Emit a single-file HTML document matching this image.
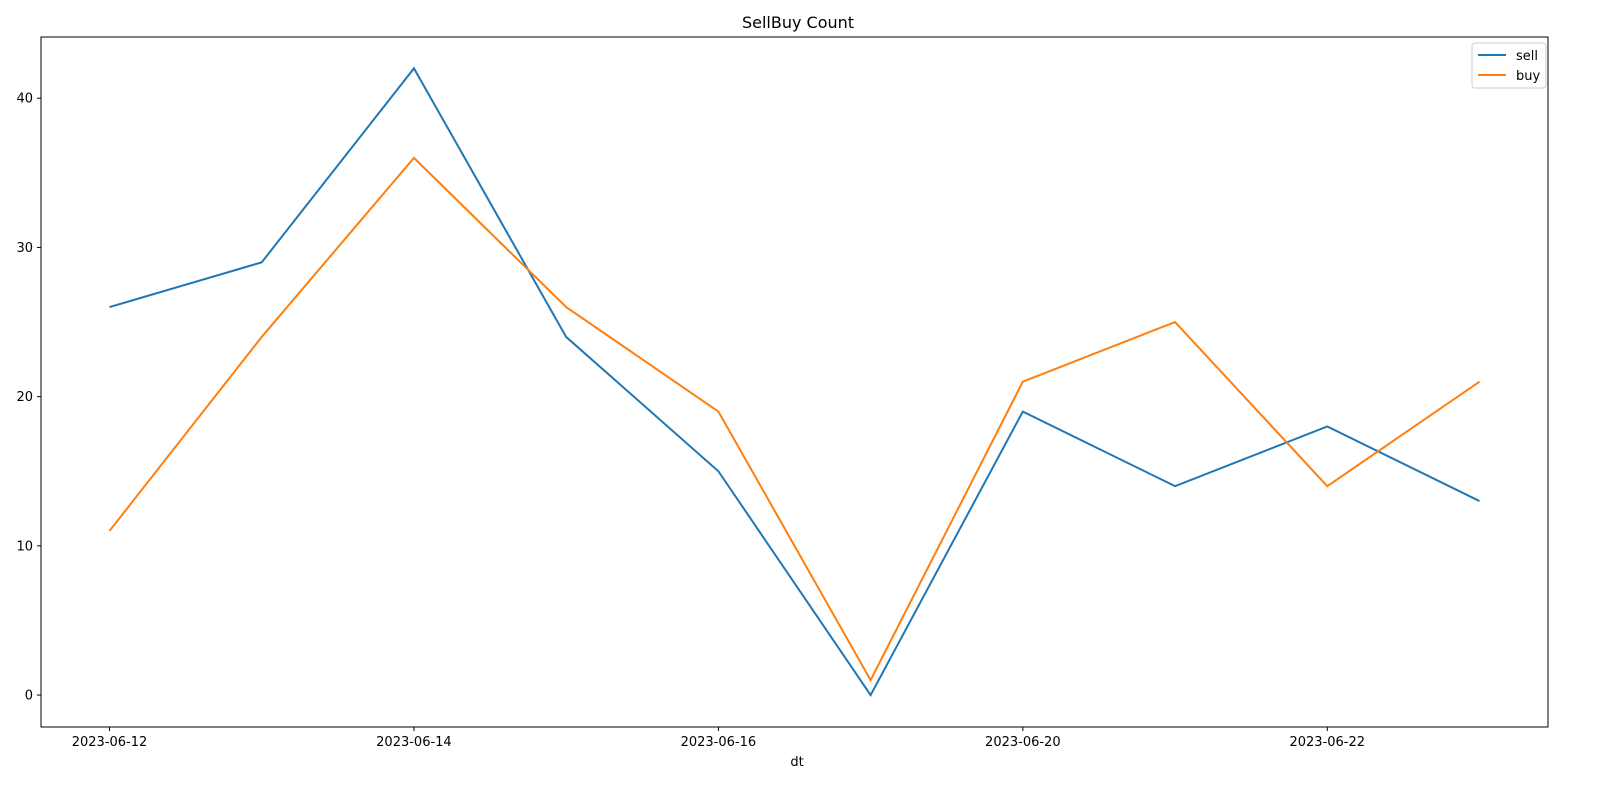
<!DOCTYPE html>
<html><head><meta charset="utf-8"><style>
html,body{margin:0;padding:0;background:#fff;overflow:hidden;width:1600px;height:800px}
svg{display:block}
svg text{font-family:"DejaVu Sans","Liberation Sans",sans-serif}
</style></head><body>
<svg id="c" width="1600" height="800" viewBox="0 0 1600 800"></svg>
<script>
const categories=["2023-06-12","2023-06-13","2023-06-14","2023-06-15","2023-06-16","2023-06-19","2023-06-20","2023-06-21","2023-06-22","2023-06-23"];
const sellValues=[26,29,42,24,15,0,19,14,18,13];
const buyValues=[11,24,36,26,19,1,21,25,14,21];
const yTicks=[0,10,20,30,40];
const xTickIdx=[0,2,4,6,8];
const L=41,R=1548,T=37,B=727;
const xMin=-0.45,xMax=9.45,yMin=-2.14,yMax=44.1;
const X=i=>L+(i-xMin)/(xMax-xMin)*(R-L);
const Y=v=>B-(v-yMin)/(yMax-yMin)*(B-T);
const s=document.getElementById('c');const NS='http://www.w3.org/2000/svg';
function el(t,a,txt){const e=document.createElementNS(NS,t);for(const k in a)e.setAttribute(k,a[k]);if(txt!=null)e.textContent=txt;s.appendChild(e);return e;}
let e=el('text',{x:798,y:28,'text-anchor':'middle','font-size':16},'SellBuy Count');


yTicks.forEach(v=>{el('line',{x1:L-4,x2:L,y1:Y(v),y2:Y(v),stroke:'#000'});
e=el('text',{x:L-8,y:Y(v)+4.5,'text-anchor':'end','font-size':13},v);

});
xTickIdx.forEach(i=>{el('line',{x1:X(i),x2:X(i),y1:B,y2:B+4,stroke:'#000'});
e=el('text',{x:X(i),y:B+19,'text-anchor':'middle','font-size':13},categories[i]);

});
e=el('text',{x:797,y:766,'text-anchor':'middle','font-size':13},'dt');


function line(vals,color,name){e=el('polyline',{points:vals.map((v,i)=>X(i)+','+Y(v)).join(' '),fill:'none',stroke:color,'stroke-width':2});

}
line(sellValues,'#1f77b4','sell-line');
line(buyValues,'#ff7f0e','buy-line');
e=el('rect',{x:L,y:T,width:R-L,height:B-T,fill:'none',stroke:'#000','stroke-width':1});


e=el('rect',{x:1472,y:43,width:74,height:45,fill:'#fff',stroke:'#ccc',rx:3});


el('line',{x1:1478,x2:1506,y1:55,y2:55,stroke:'#1f77b4','stroke-width':2});
e=el('text',{x:1516,y:60,'font-size':13},'sell');


el('line',{x1:1478,x2:1506,y1:75,y2:75,stroke:'#ff7f0e','stroke-width':2});
e=el('text',{x:1516,y:80,'font-size':13},'buy');


</script>
</body></html>
